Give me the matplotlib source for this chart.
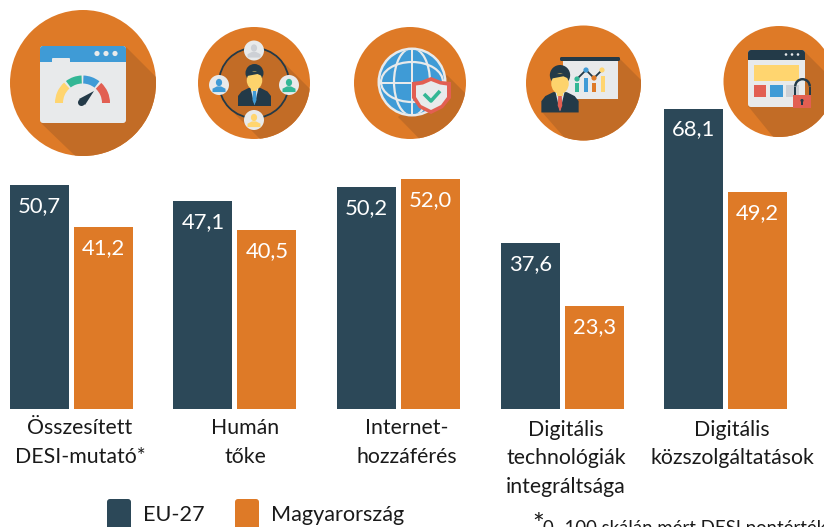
import numpy as np
import matplotlib
matplotlib.use("Agg")
import matplotlib.pyplot as plt
from matplotlib.patches import Circle, Ellipse, Polygon, Rectangle, FancyBboxPatch, Wedge

plt.rcParams['font.family'] = ['Lato', 'DejaVu Sans']

categories = ["Összesített\nDESI-mutató*", "Humán\ntőke", "Internet-\nhozzáférés",
              "Digitális\ntechnológiák\nintegráltsága", "Digitális\nközszolgáltatások"]
eu_values = [50.7, 47.1, 50.2, 37.6, 68.1]
hu_values = [41.2, 40.5, 52.0, 23.3, 49.2]
series_names = ["EU-27", "Magyarország"]
footnote = "0–100 skálán mért DESI pontérték"

# layout, in pixels
group_left = [10, 173.5, 337, 501, 664]
label_x = [80, 245, 407, 566, 732]
label_y = [428.5, 428.5, 428.5, 430, 430]
bar_w = 59
bar_gap = 5
baseline_px = 408.5
px_per_unit = 4.405

ORANGE = "#DE7A27"
SHADE = "#C26C26"
DARK = "#2C4858"
LIGHT = "#E8EAEB"
BLUE = "#3F9BD6"
GREEN = "#33B795"
YELLOW = "#FFD56F"
RED = "#E25F52"
GREY = "#CDD0D5"
SUIT = "#233A48"
SKIN = "#FDD36C"

fig = plt.figure(figsize=(8.24, 5.27), dpi=100)

# bars: y axis is in chart units, x axis in pixels
ax = fig.add_axes([0, 0, 1, 1])
ax.set_xlim(0, 824)
ax.set_ylim((baseline_px - 527) / px_per_unit, baseline_px / px_per_unit)
ax.axis("off")

left = np.array(group_left)
ax.bar(left, eu_values, bar_w, align="edge", color=DARK)
ax.bar(left + bar_w + bar_gap, hu_values, bar_w, align="edge", color=ORANGE)

for i in range(len(categories)):
    ax.annotate(f"{eu_values[i]:.1f}".replace(".", ","), (left[i] + bar_w / 2, eu_values[i]),
                xytext=(0, -15), textcoords="offset points", ha="center", va="center",
                color="white", fontsize=15.8)
    ax.annotate(f"{hu_values[i]:.1f}".replace(".", ","), (left[i] + 1.5 * bar_w + bar_gap, hu_values[i]),
                xytext=(0, -15), textcoords="offset points", ha="center", va="center",
                color="white", fontsize=15.8)

# everything else in pixel coordinates
ov = fig.add_axes([0, 0, 1, 1])
ov.set_xlim(0, 824)
ov.set_ylim(527, 0)
ov.axis("off")
ov.patch.set_alpha(0)

for i, cat in enumerate(categories):
    for j, line in enumerate(cat.split("\n")):
        ov.text(label_x[i], label_y[i] + j * 28.5, line, ha="center", va="center",
                fontsize=15.3, color="#1a1a1a")

for x, name, col, tx in [(107, series_names[0], DARK, 143), (235, series_names[1], ORANGE, 271)]:
    ov.add_patch(FancyBboxPatch((x + 3, 502), 18, 30, boxstyle="round,pad=3", fc=col, ec="none"))
    ov.text(tx, 515, name, ha="left", va="center", fontsize=15.6, color="#1a1a1a")

# the footnote runs off the bottom edge, as in the source
ov.text(532, 534, "*", fontsize=20, ha="left", va="baseline", color="#1a1a1a")
ov.text(543, 534, footnote, fontsize=13.4, ha="left", va="baseline", color="#1a1a1a")


def rect(x0, y0, x1, y1, col, z=3):
    ov.add_patch(Rectangle((x0, y0), x1 - x0, y1 - y0, fc=col, ec="none", zorder=z))


def rrect(x0, y0, x1, y1, col, r=2, z=3):
    ov.add_patch(FancyBboxPatch((x0 + r, y0 + r), x1 - x0 - 2 * r, y1 - y0 - 2 * r,
                                boxstyle=f"round,pad={r}", fc=col, ec="none", zorder=z))


def dot(x, y, r, col, z=3):
    ov.add_patch(Circle((x, y), r, fc=col, ec="none", zorder=z))


def badge(cx, cy, r, shadow):
    c = Circle((cx, cy), r, fc=ORANGE, ec="none", zorder=1)
    ov.add_patch(c)
    p = Polygon(shadow, closed=True, fc=SHADE, ec="none", zorder=2)
    ov.add_patch(p)
    p.set_clip_path(c)


def person(cx, cy, s, col, z=5):
    ov.add_patch(Ellipse((cx, cy - 2.6 * s), 4.6 * s, 5.4 * s, fc=col, ec="none", zorder=z))
    ov.add_patch(Polygon([(cx - 4.8 * s, cy + 4.5 * s), (cx - 4.8 * s, cy + 2 * s),
                          (cx - 1.5 * s, cy + 0.3 * s), (cx + 1.5 * s, cy + 0.3 * s),
                          (cx + 4.8 * s, cy + 2 * s), (cx + 4.8 * s, cy + 4.5 * s)],
                         closed=True, fc=col, ec="none", zorder=z))


def man(cx, top, s, tie, z=5):
    # suit, face and hair of the large figures
    ov.add_patch(Polygon([(cx - 16.5 * s, top + 42 * s), (cx - 16.5 * s, top + 32 * s),
                          (cx - 13 * s, top + 27.5 * s), (cx - 6 * s, top + 24 * s),
                          (cx + 6 * s, top + 24 * s), (cx + 13 * s, top + 27.5 * s),
                          (cx + 16.5 * s, top + 32 * s), (cx + 16.5 * s, top + 42 * s)],
                         closed=True, fc=SUIT, ec="none", zorder=z))
    ov.add_patch(Polygon([(cx - 4 * s, top + 24 * s), (cx + 4 * s, top + 24 * s),
                          (cx, top + 41 * s)], closed=True, fc="#DDE3E7", ec="none", zorder=z))
    ov.add_patch(Polygon([(cx - 1.5 * s, top + 26 * s), (cx + 1.5 * s, top + 26 * s),
                          (cx + 2 * s, top + 36 * s), (cx, top + 41 * s), (cx - 2 * s, top + 36 * s)],
                         closed=True, fc=tie, ec="none", zorder=z + 1))
    ov.add_patch(Ellipse((cx, top + 9 * s), 18 * s, 18 * s, fc=SUIT, ec="none", zorder=z))
    ov.add_patch(Ellipse((cx, top + 16.5 * s), 15.5 * s, 18 * s, fc=SKIN, ec="none", zorder=z + 1))
    rect(cx - 3 * s, top + 22 * s, cx + 3 * s, top + 27 * s, SKIN, z + 1)
    # fringe over the forehead
    ov.add_patch(Polygon([(cx - 7.5 * s, top + 12 * s), (cx - 5 * s, top + 8 * s), (cx + 5 * s, top + 8 * s),
                          (cx + 7.5 * s, top + 12 * s), (cx + 3 * s, top + 10 * s)],
                         closed=True, fc=SUIT, ec="none", zorder=z + 2))


# icon 1, dashboard
badge(83, 83, 73, [(126, 47), (200, 121), (121, 200), (41, 123)])
rrect(40, 46, 126, 123, LIGHT, r=3)
rrect(40, 46, 126, 61, BLUE, r=3)
rect(40, 56, 126, 61.5, BLUE)
rrect(52, 58, 70, 63, LIGHT, r=1, z=3.5)
rect(40, 62, 126, 64, LIGHT, 3.5)
for dx in [97, 106, 115]:
    dot(dx, 53.5, 2.6, LIGHT, 4)
for a0, a1, col in [(180, 228, YELLOW), (233, 268, GREEN), (272, 308, BLUE), (313, 360, RED)]:
    ov.add_patch(Wedge((82.5, 103), 27.5, a0, a1, width=8, fc=col, ec="none", zorder=4))
ov.add_patch(Polygon([(79, 99), (85, 105), (94, 91)], closed=True, fc=SUIT, ec="none", zorder=5))
dot(81.5, 102.5, 3.5, SUIT, 5)

# icon 2, people around a manager
badge(254, 83, 56, [(279, 58), (339, 118), (289, 168), (229, 108)])
dot(254, 83, 35, SHADE, 2)
ov.add_patch(Circle((254, 83), 35, fc="none", ec=SUIT, lw=1.3, zorder=3))
for x, y, col in [(254, 50.5, GREY), (219, 85, BLUE), (289, 85, GREEN), (254, 120, YELLOW)]:
    dot(x, y, 10, LIGHT, 4)
    person(x, y + 1, 1.35, col)
man(254.5, 64, 1.0, BLUE)

# icon 3, globe and shield
badge(410, 83, 56, [(447, 75), (497, 125), (448, 168), (398, 117)])
dot(412, 82, 34.5, LIGHT, 3)
globe = Circle((412, 82), 32, fc=BLUE, ec="none", zorder=3.1)
ov.add_patch(globe)
for w, h in [(36, 68), (62, 40)]:
    e = Ellipse((412, 82), w, h, fc="none", ec=LIGHT, lw=1.6, zorder=3.2)
    ov.add_patch(e)
    e.set_clip_path(globe)
rect(380, 81.8, 444, 84.2, LIGHT, 3.2)
rect(410.8, 50, 413.2, 114, LIGHT, 3.2)
ov.add_patch(Polygon([(431, 77), (441, 81), (451, 82), (451, 98), (443, 108), (431, 114),
                      (419, 108), (412, 98), (412, 82), (421, 81)],
                     closed=True, fc=RED, ec="none", zorder=4))
ov.add_patch(Polygon([(431, 81), (440, 84.5), (447, 85.5), (447, 97), (441, 105), (431, 110),
                      (421, 105), (416, 97), (416, 85.5), (423, 84.5)],
                     closed=True, fc=LIGHT, ec="none", zorder=4.1))
ov.plot([424, 431, 440], [94, 101, 91], color=GREEN, lw=2.6, zorder=4.2, solid_capstyle="butt")

# icon 4, presenter with chart
badge(583.5, 83, 57.5, [(619, 58), (680, 119), (610, 190), (542, 112)])
rect(563, 60, 618, 99, LIGHT)
rrect(560, 57, 620, 61, SUIT, r=1.5, z=3.5)
for x, top, col in [(577, 83, GREEN), (586, 78, BLUE), (594.5, 83, ORANGE), (603, 76, YELLOW)]:
    rect(x - 2, top, x + 2, 92, col, 4)
ov.plot([577, 586, 594, 602], [79, 70, 78, 70], color=SUIT, lw=1.3, zorder=4)
for x, y, col in [(577, 79, GREEN), (586, 70, BLUE), (594, 78, ORANGE), (602, 70, YELLOW)]:
    dot(x, y, 2.6, col, 4.5)
man(560, 65, 1.13, RED)

# icon 5, locked page
badge(779, 81.5, 55.5, [(805, 52), (860, 107), (800, 170), (748, 106)])
rrect(748, 50, 805, 107, LIGHT, r=3)
rrect(748, 50, 805, 60, SUIT, r=3)
rect(748, 56, 805, 60, SUIT)
for dx in [786, 792, 798]:
    dot(dx, 54.5, 1.3, LIGHT, 4)
rect(754, 65, 799, 81, YELLOW)
rect(754, 85, 766, 97, RED)
rect(770, 85, 783, 97, BLUE)
rect(786, 85, 799, 97, GREY)
ov.add_patch(Wedge((802.5, 86.5), 8.5, 180, 360, width=2.4, fc=SUIT, ec="none", zorder=4))
rect(794, 86.5, 796.4, 97, SUIT, 4)
rect(808.6, 86.5, 811, 97, SUIT, 4)
rect(793, 95, 811, 108, RED, 4.2)
dot(802, 100.5, 1.6, SUIT, 4.5)
rect(801.3, 100.5, 802.7, 104.5, SUIT, 4.5)

fig.savefig("out.png", dpi=100)
